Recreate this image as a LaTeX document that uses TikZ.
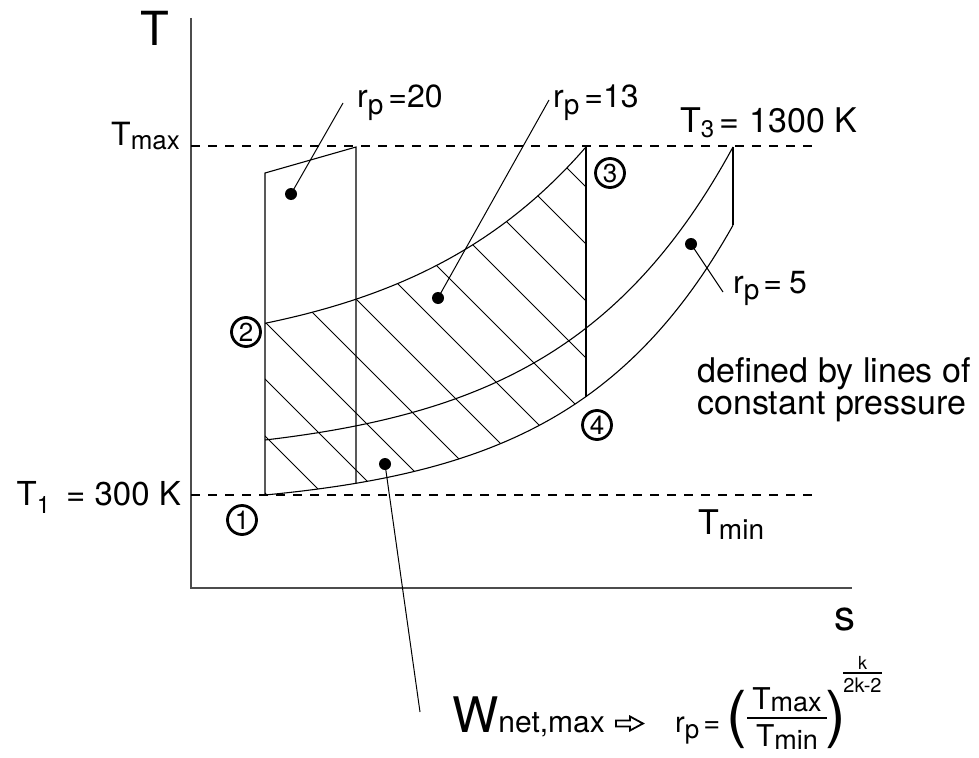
\documentclass[tikz,border=0pt]{standalone}
\usepackage{fontspec}
\setmainfont{TeX Gyre Heros}
\newcommand{\fs}[1]{\fontsize{#1}{#1}\selectfont}
\begin{document}
\begin{tikzpicture}[x=1pt,y=-1pt,
  declare function={ylow(\x)=495-15.3*(exp((\x-265)/160)-1);
                    ymid(\x)=440-19.95*(exp((\x-265)/170)-1);
                    yup(\x)=323.3-38.2*(exp((\x-265)/186)-1);},
  curve/.style={line width=1.1pt},
  axisline/.style={line width=1.4pt, black!70},
  lim/.style={dash pattern=on 9pt off 8pt, line width=1.8pt},
  hatch/.style={line width=1pt},
  dot/.style={circle, fill, inner sep=0pt, minimum size=12pt},
  lead/.style={line width=1pt},
  stn/.style={circle, draw, line width=2.8pt, inner sep=0pt, minimum size=29pt, font=\fs{26}},
  lbl/.style={inner sep=0pt, anchor=base west},
]
\useasboundingbox (0,0) rectangle (979,757);
% axes
\coordinate (O) at (191,588);
\coordinate (Ytop) at (191,18);
\coordinate (Xend) at (852,588);
\draw[axisline] (Ytop) -- (O) -- (Xend);
% limit lines
\coordinate (tmaxL) at (191,146); \coordinate (tmaxR) at (812,146);
\coordinate (tminL) at (191,495); \coordinate (tminR) at (812,495);
\draw[lim] (tmaxL) -- (tmaxR);
\draw[lim] (tminL) -- (tminR);
% key points
\coordinate (p1) at (265,495);
\coordinate (p2) at (265,323.3);
\coordinate (p3) at (586,{yup(586)});
\coordinate (p4) at (586,{ylow(586)});
\coordinate (a) at (265,173);
\coordinate (b) at (356,147);
\coordinate (c) at (356,{ylow(356)});
\coordinate (m2) at (733,{ymid(733)});
\coordinate (m3) at (733,{ylow(733)});
% hatching
\begin{scope}
\clip (p1) -- (p2) -- plot[domain=265:586,samples=60] (\x,{yup(\x)}) -- (p4)
      -- plot[domain=586:265,samples=60] (\x,{ylow(\x)}) -- cycle;
\foreach \c in {228,171,...,-399} \draw[hatch] (200,{200+(\c)}) -- (700,{700+(\c)});
\end{scope}
% curves
\draw[curve] plot[domain=265:733,samples=90] (\x,{ylow(\x)});
\draw[curve] plot[domain=265:733,samples=90] (\x,{ymid(\x)});
\draw[curve] plot[domain=265:586,samples=70] (\x,{yup(\x)});
\draw[curve] (p1) -- (a) -- (b) -- (c);
\draw[curve] (p3) -- (p4);
\draw[curve] (m2) -- (m3);
% state numbers
\node[stn] (n1) at (242,520) {1};
\node[stn] (n2) at (246,332) {2};
\node[stn] (n3) at (610,173) {3};
\node[stn] (n4) at (597,425) {4};
% dots and leaders
\node[dot] (d20) at (291,194) {};
\node[dot] (d13) at (438,298) {};
\node[dot] (d5) at (691,244) {};
\node[dot] (dw) at (385,464) {};
\coordinate (e20) at (343,103);
\coordinate (e13) at (549,100);
\coordinate (e5) at (723,292);
\coordinate (ew) at (420,712);
\draw[lead] (d20.center) -- (e20);
\draw[lead] (d13.center) -- (e13);
\draw[lead] (d5.center) -- (e5);
\draw[lead] (dw.center) -- (ew);
% labels
\node[lbl,font=\fs{47}] (Tax) at (140,46) {T};
\node[lbl,font=\fs{42}] (sax) at (834,630) {s};
\node[lbl,font=\fs{32}] (tmax) at (111,145) {T\raisebox{-4pt}{\fs{26}max}};
\node[inner sep=0pt,anchor=base east,font=\fs{33}] (t1) at (181,505) {T\raisebox{-8pt}{\fs{24}1}\hspace{16pt}= 300 K};
\node[lbl,font=\fs{34}] (t3) at (680,132) {T\raisebox{-5pt}{\fs{24}3}\,= 1300 K};
\node[lbl,font=\fs{34}] (tmin) at (698,534) {T\raisebox{-5pt}{\fs{28}min}};
\node[lbl,font=\fs{32}] (l20) at (357,108) {r\raisebox{-6pt}{\fs{28}p}\hspace{5pt}=20};
\node[lbl,font=\fs{32}] (l13) at (553,108) {r\raisebox{-6pt}{\fs{28}p}\hspace{5pt}=13};
\node[lbl,font=\fs{32}] (l5) at (733,293) {r\raisebox{-6pt}{\fs{28}p}\hspace{4pt}=\hspace{7pt}5};
\node[lbl,font=\fs{34}] (def1) at (697,382) {defined by lines of};
\node[lbl,font=\fs{34}] (def2) at (697,414) {constant pressure};
% formula
\node[lbl,font=\fs{49}] (W) at (452,732) {W\fs{30}net,max};
\draw[line width=1.8pt, line join=miter] (616,720.5) -- (630,720.5) -- (630,716.5) -- (643,723.5) -- (630,730.5) -- (630,726.5) -- (616,726.5) -- cycle;
\node[lbl,font=\fs{29}] (rp) at (675,732) {r\raisebox{-6pt}{\fs{26}p}\hspace{4pt}=};
\node[inner sep=0pt,font=\fs{62}] (lpar) at (737,719) {(};
\coordinate (barL) at (747,718); \coordinate (barR) at (827,718);
\draw[line width=1.3pt] (barL) -- (barR);
\node[inner sep=0pt,anchor=base,font=\fs{30}] (num) at (787,709) {T\raisebox{-2pt}{\fs{27}max}};
\node[inner sep=0pt,anchor=base,font=\fs{30}] (den) at (787,746) {T\raisebox{-3pt}{\fs{27}min}};
\node[inner sep=0pt,font=\fs{62}] (rpar) at (836,719) {)};
\coordinate (ebL) at (843,673); \coordinate (ebR) at (882,673);
\draw[line width=1.2pt] (ebL) -- (ebR);
\node[inner sep=0pt,anchor=base,font=\fs{18}] (ek) at (862.5,669) {k};
\node[inner sep=0pt,anchor=base,font=\fs{20}] (ed) at (862.5,692) {2k-2};
\end{tikzpicture}
\end{document}
